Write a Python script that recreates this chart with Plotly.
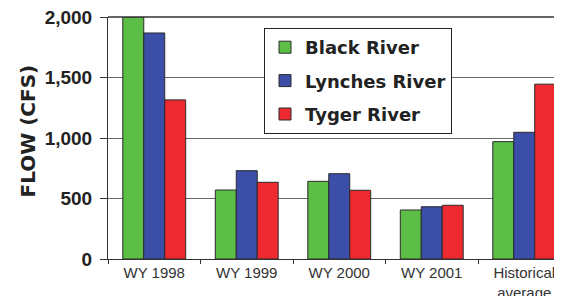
import plotly.graph_objects as go

categories = ["WY 1998", "WY 1999", "WY 2000", "WY 2001", "Historical<br>average"]
black_river = [2000, 570, 642, 405, 970]
lynches_river = [1868, 730, 705, 432, 1047]
tyger_river = [1315, 634, 568, 444, 1445]
series_names = ["Black River", "Lynches River", "Tyger River"]
y_ticks = [0, 500, 1000, 1500, 2000]
y_tick_text = ["0", "500", "1,000", "1,500", "2,000"]

colors = ["#5DBE47", "#3C4FA8", "#EE2A30"]

fig = go.Figure()
for name, vals, col in zip(series_names, [black_river, lynches_river, tyger_river], colors):
    fig.add_trace(go.Bar(
        x=categories, y=vals, name=name, legendgroup=name,
        marker=dict(color=col, line=dict(color="#2a2a2a", width=1)),
    ))

# page body has an 8px default margin; work in page pixels and shift
OFF = 8
W, H = 562, 296
left_px, right_px, top_px, bottom_px = 108, 562, 17, 259  # plot area in page pixels
L = left_px - OFF
T = top_px - OFF
R = W - (right_px - OFF)
B = H - (bottom_px - OFF)
pw = right_px - left_px
ph = bottom_px - top_px

def px_x(x):
    return (x - left_px) / pw

def px_y(y):
    return (bottom_px - y) / ph

fig.update_layout(
    width=W, height=H,
    margin=dict(l=L, r=R, t=T, b=B, pad=0, autoexpand=False),
    paper_bgcolor="white", plot_bgcolor="white",
    barmode="group", bargap=0.32, bargroupgap=0,
    showlegend=True,
    legend=dict(
        x=px_x(264), y=px_y(28), xanchor="left", yanchor="top",
        bgcolor="white", bordercolor="#222", borderwidth=1,
        font=dict(family="DejaVu Sans", size=18, color="#222", weight="bold"),
        traceorder="grouped", tracegroupgap=7, itemwidth=30,
    ),
    xaxis=dict(
        type="category", range=[-0.5, -0.5 + pw / 92.5],
        showline=True, linecolor="#333", linewidth=1,
        ticks="outside", tickson="boundaries", ticklen=4, tickcolor="#333",
        showgrid=False, automargin=False,
        tickfont=dict(family="Liberation Sans", size=15, color="#333", weight="normal"),
    ),
    yaxis=dict(
        range=[0, 2000], tickvals=y_ticks, ticktext=y_tick_text,
        showline=True, linecolor="#333", linewidth=1,
        ticks="outside", ticklen=7, tickcolor="#333", automargin=False,
        ticklabelstandoff=4, ticklabeloverflow="allow",
        showgrid=True, gridcolor="#666", gridwidth=1, zeroline=False,
        tickfont=dict(family="Liberation Sans", size=19, color="#222", weight="bold"),
    ),
    annotations=[dict(
        text="<b>FLOW (CFS)</b>", textangle=-90, showarrow=False,
        xref="paper", yref="paper", x=px_x(27), y=px_y(131.5),
        xanchor="center", yanchor="middle",
        font=dict(family="DejaVu Sans", size=20, color="#222"),
    )],
    shapes=[dict(type="line", xref="paper", yref="paper", x0=0, x1=1, y0=1, y1=1,
                 line=dict(color="#333", width=1.5), layer="above")],
)

fig.write_html("out.html")
